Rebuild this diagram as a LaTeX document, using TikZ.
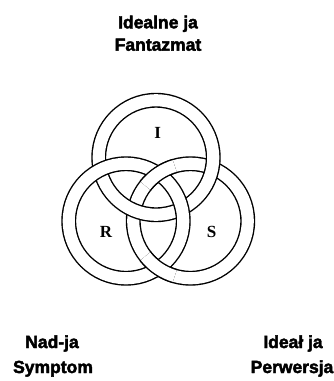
\documentclass[tikz,border=0pt]{standalone}
\usepackage{fontspec}
\newfontfamily\heavy{Liberation Sans}[BoldFeatures={FakeBold=2.5}]
\newfontfamily\ringfont{Liberation Serif}
\begin{document}
\begin{tikzpicture}[x=1pt,y=1pt,
  lab/.style={font=\heavy\bfseries\fontsize{17.5}{20}\selectfont, inner sep=0pt, anchor=base},
  rlab/.style={font=\ringfont\bfseries\fontsize{17}{20}\selectfont, inner sep=0pt},
  ringblack/.style={line width=14.9pt, black},
  ringwhite/.style={line width=12.1pt, white}]
\useasboundingbox (0,0) rectangle (334,-381);
\def\rm{57.25}
\coordinate (cI) at (156,-157.5);
\coordinate (cR) at (126,-221);
\coordinate (cS) at (190.5,-221);
% S ring (bottom)
\draw[ringblack] (cS) circle (\rm);
\draw[ringwhite] (cS) circle (\rm);
% I ring
\draw[ringblack] (cI) circle (\rm);
\draw[ringwhite] (cI) circle (\rm);
% R ring
\draw[ringblack] (cR) circle (\rm);
\draw[ringwhite] (cR) circle (\rm);
% S over R at both crossings
\foreach \a/\b in {106/142, 218/254}{
  \draw[ringblack] ([shift={(\a:\rm)}]cS) arc[start angle=\a, end angle=\b, radius=\rm];
  \draw[ringwhite] ([shift={(\a:\rm)}]cS) arc[start angle=\a, end angle=\b, radius=\rm];
}
\node[rlab] (lI) at (157.7,-133.3) {I};
\node[rlab] (lR) at (106,-231.7) {R};
\node[rlab] (lS) at (211.7,-231.7) {S};
\node[lab] (t1) at (158,-28.3) {Idealne ja};
\node[lab] (t2) at (158,-50.7) {Fantazmat};
\node[lab] (l1) at (52,-348) {Nad-ja};
\node[lab] (l2) at (53,-373) {Symptom};
\node[lab] (r1) at (293,-348) {Ideał ja};
\node[lab] (r2) at (292,-373) {Perwersja};
\end{tikzpicture}
\end{document}
